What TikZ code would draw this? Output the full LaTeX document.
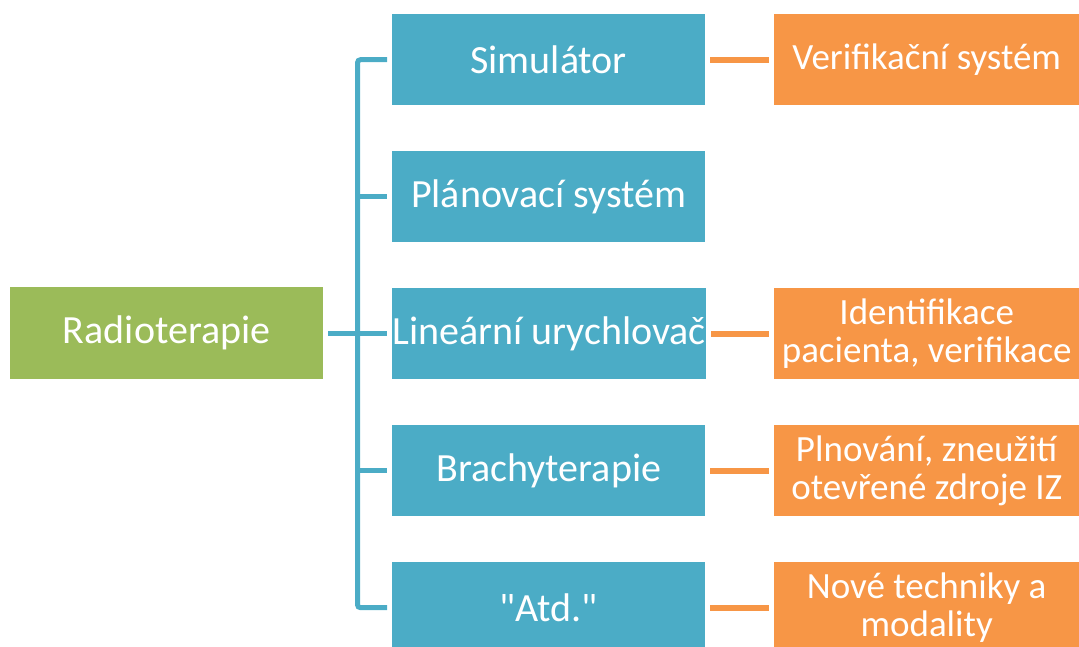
\documentclass[tikz,border=0pt]{standalone}
\usepackage{fontspec}
\setmainfont{Carlito}[Ligatures=TeXOff]
\usetikzlibrary{calc}
\definecolor{cblue}{HTML}{4BACC6}
\definecolor{cgreen}{HTML}{9BBB59}
\definecolor{corange}{HTML}{F79646}
\tikzset{
  boxbase/.style={rectangle, inner sep=0pt, minimum width=313pt, minimum height=91pt, anchor=north west, text=white, align=center, font=\fontsize{40}{46}\selectfont},
  bluebox/.style={boxbase, fill=cblue},
  greenbox/.style={boxbase, fill=cgreen, minimum height=92pt},
  orangebox/.style={boxbase, fill=corange, minimum width=305pt, font=\fontsize{37}{38}\selectfont},
  blueline/.style={draw=cblue, line width=5pt},
  orangeline/.style={draw=corange, line width=6pt}
}
\begin{document}
\begin{tikzpicture}[x=1pt,y=-1pt]
\useasboundingbox (0,0) rectangle (1079,647);
\node[greenbox] (g) at (10,287) {Radioterapie};
\node[bluebox] (b1) at (392,14) {Simulátor};
\node[bluebox] (b2) at (392,151) {Plánovací systém};
\node[bluebox] (b3) at (392,288) {Lineární urychlovač};
\node[bluebox] (b4) at (392,425) {Brachyterapie};
\node[bluebox] (b5) at (392,562) {"Atd."};
\node[orangebox] (o1) at (774,14) {Verifikační systém};
\node[orangebox] (o3) at (774,288) {Identifikace\\pacienta, verifikace};
\node[orangebox] (o4) at (774,425) {Plnování, zneužití\\otevřené zdroje IZ};
\node[orangebox] (o5) at (774,562) {Nové techniky a\\modality};
\coordinate (spine) at (357.5,333.5);
\draw[blueline, rounded corners=3pt] ([xshift=-5pt]b1.west) -| (spine |- b5.west) -- ([xshift=-5pt]b5.west);
\draw[blueline] (spine |- b2.west) -- ([xshift=-5pt]b2.west);
\draw[blueline] (spine |- b3.west) -- ([xshift=-5pt]b3.west);
\draw[blueline] (spine |- b4.west) -- ([xshift=-5pt]b4.west);
\draw[blueline] ([xshift=5pt]g.east) -- (spine |- g.east);
\draw[orangeline] ([xshift=5pt]b1.east) -- ([xshift=-5pt]o1.west);
\draw[orangeline] ([xshift=5pt]b3.east) -- ([xshift=-5pt]o3.west);
\draw[orangeline] ([xshift=5pt]b4.east) -- ([xshift=-5pt]o4.west);
\draw[orangeline] ([xshift=5pt]b5.east) -- ([xshift=-5pt]o5.west);
\end{tikzpicture}
\end{document}
